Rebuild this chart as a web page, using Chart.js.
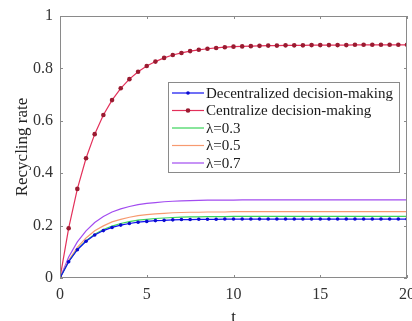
<!DOCTYPE html>
<html>
<head>
<meta charset="utf-8">
<script src="https://cdn.jsdelivr.net/npm/chart.js@4.4.0/dist/chart.umd.min.js"></script>
<style>
  html, body { margin: 0; padding: 0; background: #fff; }
  #wrap { width: 412px; height: 321px; }
</style>
</head>
<body>
<div id="wrap"><canvas id="rateChart" width="412" height="321"></canvas></div>
<script>
// time points (t), every 0.5
var tValues = [0, 0.5, 1, 1.5, 2, 2.5, 3, 3.5, 4, 4.5, 5, 5.5, 6, 6.5, 7, 7.5, 8, 8.5, 9, 9.5, 10,
    10.5, 11, 11.5, 12, 12.5, 13, 13.5, 14, 14.5, 15, 15.5, 16, 16.5, 17, 17.5, 18, 18.5, 19, 19.5, 20];

// recycling rate
var decentralized = [0, 0.062, 0.108, 0.140, 0.164, 0.181, 0.193, 0.202, 0.208, 0.213, 0.216, 0.219, 0.220, 0.222, 0.223, 0.223, 0.224, 0.224, 0.224, 0.225, 0.225,
    0.225, 0.225, 0.225, 0.225, 0.225, 0.225, 0.225, 0.225, 0.225, 0.225, 0.225, 0.225, 0.225, 0.225, 0.225, 0.225, 0.225, 0.225, 0.225, 0.225];
var centralized = [0, 0.190, 0.340, 0.457, 0.549, 0.622, 0.679, 0.724, 0.759, 0.787, 0.809, 0.826, 0.840, 0.851, 0.859, 0.866, 0.871, 0.875, 0.878, 0.881, 0.883,
    0.884, 0.885, 0.886, 0.887, 0.887, 0.888, 0.888, 0.888, 0.889, 0.889, 0.889, 0.889, 0.889, 0.890, 0.890, 0.890, 0.890, 0.890, 0.890, 0.890];
var lambda03 = [0, 0.063, 0.109, 0.142, 0.167, 0.185, 0.198, 0.208, 0.215, 0.221, 0.224, 0.227, 0.229, 0.231, 0.232, 0.233, 0.233, 0.234, 0.234, 0.234, 0.235,
    0.235, 0.235, 0.235, 0.235, 0.235, 0.235, 0.235, 0.235, 0.235, 0.235, 0.235, 0.235, 0.235, 0.235, 0.235, 0.235, 0.235, 0.235, 0.235, 0.235];
var lambda05 = [0, 0.068, 0.117, 0.153, 0.180, 0.199, 0.214, 0.224, 0.232, 0.238, 0.242, 0.245, 0.247, 0.249, 0.250, 0.251, 0.251, 0.252, 0.252, 0.252, 0.253,
    0.253, 0.253, 0.253, 0.253, 0.253, 0.253, 0.253, 0.253, 0.253, 0.253, 0.253, 0.253, 0.253, 0.253, 0.253, 0.253, 0.253, 0.253, 0.253, 0.253];
var lambda07 = [0, 0.080, 0.138, 0.180, 0.212, 0.235, 0.252, 0.264, 0.273, 0.280, 0.285, 0.288, 0.291, 0.293, 0.294, 0.295, 0.296, 0.297, 0.297, 0.297, 0.297,
    0.298, 0.298, 0.298, 0.298, 0.298, 0.298, 0.298, 0.298, 0.298, 0.298, 0.298, 0.298, 0.298, 0.298, 0.298, 0.298, 0.298, 0.298, 0.298, 0.298];

var xTicks = [0, 5, 10, 15, 20];
var yTicks = [0, 0.2, 0.4, 0.6, 0.8, 1];

var seriesLabels = ['Decentralized decision-making', 'Centralize decision-making', '\u03bb=0.3', '\u03bb=0.5', '\u03bb=0.7'];

function toPoints(values) {
    return values.map(function(v, i) {
        return { x: tValues[i], y: v };
    });
}

var serif = '"Liberation Serif", "DejaVu Serif", serif';

// frame, inward ticks and the boxed legend, MATLAB style
var framePlugin = {
    id: 'framePlugin',
    afterDatasetsDraw: function(chart) {
        var ctx = chart.ctx;
        var a = chart.chartArea;
        var xs = chart.scales.x;
        var ys = chart.scales.y;
        ctx.save();
        ctx.strokeStyle = '#8a8a8a';
        ctx.lineWidth = 1;
        ctx.strokeRect(a.left + 0.5, a.top + 0.5, a.right - a.left - 1, a.bottom - a.top - 1);
        ctx.beginPath();
        xTicks.forEach(function(t) {
            var px = Math.round(xs.getPixelForValue(t)) + 0.5;
            ctx.moveTo(px, a.bottom); ctx.lineTo(px, a.bottom - 3);
            ctx.moveTo(px, a.top); ctx.lineTo(px, a.top + 3);
        });
        yTicks.forEach(function(t) {
            var py = Math.round(ys.getPixelForValue(t)) + 0.5;
            ctx.moveTo(a.left, py); ctx.lineTo(a.left + 3, py);
            ctx.moveTo(a.right, py); ctx.lineTo(a.right - 3, py);
        });
        ctx.stroke();

        // legend box
        var bx = 168, by = 82, bw = 231, bh = 90;
        ctx.fillStyle = '#ffffff';
        ctx.fillRect(bx, by, bw, bh);
        ctx.strokeStyle = '#8a8a8a';
        ctx.strokeRect(bx + 0.5, by + 0.5, bw, bh);
        ctx.font = '15px ' + serif;
        ctx.textBaseline = 'middle';
        chart.data.datasets.forEach(function(ds, i) {
            var ry = by + 11 + i * 17.5;
            ctx.strokeStyle = ds.borderColor;
            ctx.lineWidth = 1.2;
            ctx.beginPath();
            ctx.moveTo(bx + 4, ry); ctx.lineTo(bx + 36, ry);
            ctx.stroke();
            if (ds.pointRadius > 0) {
                ctx.fillStyle = ds.pointBackgroundColor;
                ctx.beginPath();
                ctx.arc(bx + 20, ry, ds.pointRadius, 0, Math.PI * 2);
                ctx.fill();
            }
            ctx.fillStyle = '#1a1a1a';
            ctx.fillText(ds.label, bx + 38, ry + 1);
        });
        ctx.restore();
    }
};

var ctx = document.getElementById('rateChart').getContext('2d');
var rateChart = new Chart(ctx, {
    type: 'line',
    data: {
        datasets: [{
            label: seriesLabels[0],
            data: toPoints(decentralized),
            borderColor: '#1010f0',
            backgroundColor: '#1010f0',
            pointBackgroundColor: '#0a0ad0',
            pointBorderWidth: 0,
            pointRadius: 1.8,
            borderWidth: 1.2
        }, {
            label: seriesLabels[1],
            data: toPoints(centralized),
            borderColor: '#e3305a',
            backgroundColor: '#e3305a',
            pointBackgroundColor: '#9a1a30',
            pointBorderWidth: 0,
            pointRadius: 2.3,
            borderWidth: 1.2
        }, {
            label: seriesLabels[2],
            data: toPoints(lambda03),
            borderColor: '#3ad45a',
            pointRadius: 0,
            borderWidth: 1.2
        }, {
            label: seriesLabels[3],
            data: toPoints(lambda05),
            borderColor: '#f79a70',
            pointRadius: 0,
            borderWidth: 1.2
        }, {
            label: seriesLabels[4],
            data: toPoints(lambda07),
            borderColor: '#a24cf0',
            pointRadius: 0,
            borderWidth: 1.2
        }]
    },
    options: {
        responsive: false,
        animation: false,
        layout: {
            padding: { top: 16, right: 5, left: 0, bottom: 0 }
        },
        plugins: {
            legend: { display: false },
            tooltip: { enabled: false }
        },
        elements: {
            line: { tension: 0 }
        },
        scales: {
            x: {
                type: 'linear',
                min: 0,
                max: 20,
                afterBuildTicks: function(scale) {
                    scale.ticks = xTicks.map(function(v) { return { value: v }; });
                },
                afterFit: function(scale) {
                    scale.height = 43;
                    scale.paddingRight = 0;
                    scale.paddingLeft = 0;
                },
                grid: { display: false, drawTicks: false },
                border: { display: false },
                ticks: {
                    color: '#333',
                    padding: 7,
                    font: { family: serif, size: 16 }
                },
                title: {
                    display: true,
                    text: 't',
                    color: '#222',
                    padding: { top: 0, bottom: -7 },
                    font: { family: serif, size: 17 }
                }
            },
            y: {
                min: 0,
                max: 1,
                afterBuildTicks: function(scale) {
                    scale.ticks = yTicks.map(function(v) { return { value: v }; });
                },
                afterFit: function(scale) {
                    scale.width = 60;
                    scale.paddingTop = 0;
                    scale.paddingBottom = 0;
                },
                grid: { display: false, drawTicks: false },
                border: { display: false },
                ticks: {
                    color: '#333',
                    padding: 7,
                    font: { family: serif, size: 16 },
                    callback: function(v) { return String(v); }
                },
                title: {
                    display: true,
                    text: 'Recycling rate',
                    color: '#222',
                    padding: { top: 12, bottom: 0 },
                    font: { family: serif, size: 17 }
                }
            }
        }
    },
    plugins: [framePlugin]
});
</script>
</body>
</html>
